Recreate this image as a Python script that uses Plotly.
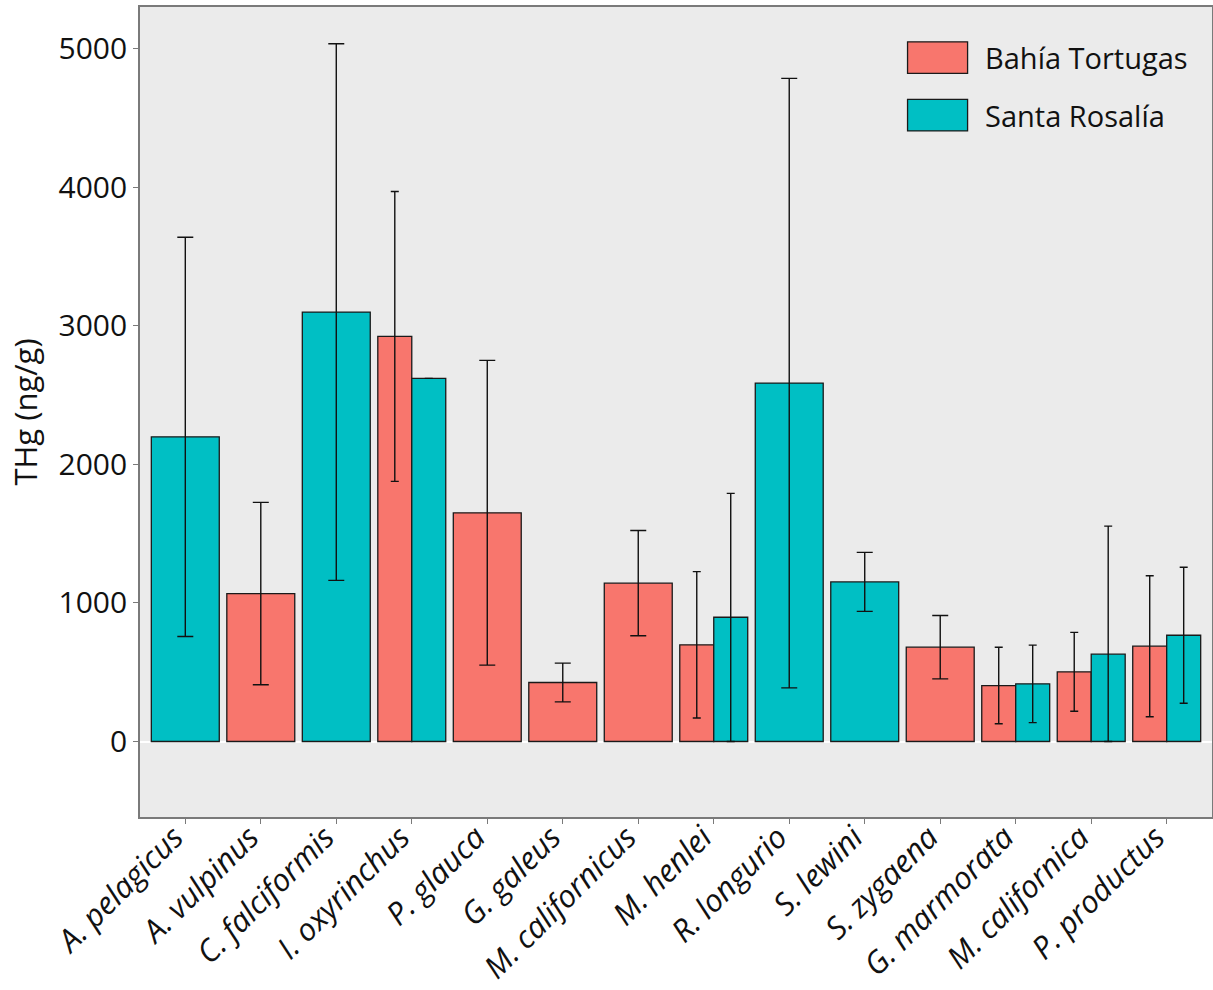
import plotly.graph_objects as go

# ---------------- data ----------------
species = ["A. pelagicus", "A. vulpinus", "C. falciformis", "I. oxyrinchus",
           "P. glauca", "G. galeus", "M. californicus", "M. henlei",
           "R. longurio", "S. lewini", "S. zygaena", "G. marmorata",
           "M. californica", "P. productus"]

series_names = ["Bahía Tortugas", "Santa Rosalía"]

bt_mean = [None, 1068, None, 2924, 1651, 426, 1143, 698, None, None, 681, 404, 503, 688]
bt_err_plus = [None, 658, None, 1046, 1100, 140, 380, 528, None, None, 229, 276, 285, 509]
bt_err_minus = [None, 658, None, 1046, 1100, 140, 380, 528, None, None, 229, 276, 285, 509]

sr_mean = [2199, None, 3100, 2621, None, None, None, 897, 2587, 1152, None, 416, 630, 767]
sr_err_plus = [1441, None, 1937, 0, None, None, None, 894, 2200, 213, None, 280, 925, 491]
sr_err_minus = [1441, None, 1937, 0, None, None, None, 897, 2200, 213, None, 280, 630, 491]

y_ticks = [0, 1000, 2000, 3000, 4000, 5000]
y_title = "THg (ng/g)"

# ---------------- styles ----------------
colors = ["#F8766D", "#00BFC4"]
FONT = "Open Sans"
PANEL = "#EBEBEB"
FRAME = "#7a7a7a"
TXT = "#111111"

series = [
    (bt_mean, bt_err_plus, bt_err_minus),
    (sr_mean, sr_err_plus, sr_err_minus),
]

n = len(species)
both = [bt_mean[i] is not None and sr_mean[i] is not None for i in range(n)]

fig = go.Figure()
for k, (means, ep, em) in enumerate(series):
    for half in (False, True):
        idx = [i for i in range(n) if means[i] is not None and both[i] == half]
        if not idx:
            continue
        w = 0.45 if half else 0.9
        off = (-0.45 if k == 0 else 0.0) if half else -0.45
        fig.add_trace(go.Bar(
            x=idx,
            y=[means[i] for i in idx],
            width=[w] * len(idx),
            offset=[off] * len(idx),
            name=series_names[k],
            showlegend=False,
            marker=dict(color=colors[k], line=dict(color="#1a1a1a", width=1.3)),
            error_y=dict(type="data", symmetric=False,
                         array=[ep[i] for i in idx],
                         arrayminus=[em[i] for i in idx],
                         color=TXT, thickness=1.4,
                         width=4 if half else 8),
        ))

# manual legend (large key boxes, like the original)
leg_x0, leg_x1, leg_tx = 0.716, 0.772, 0.786
leg_rows = [(0.957, 0.918), (0.886, 0.847)]
shapes = []
annotations = []
for k, (ytop, ybot) in enumerate(leg_rows):
    shapes.append(dict(type="rect", xref="paper", yref="paper",
                       x0=leg_x0, x1=leg_x1, y0=ybot, y1=ytop,
                       fillcolor=colors[k], line=dict(color="#1a1a1a", width=1.3)))
    annotations.append(dict(xref="paper", yref="paper", x=leg_tx, y=(ytop + ybot) / 2,
                            text=series_names[k], showarrow=False,
                            xanchor="left", yanchor="middle",
                            font=dict(family=FONT, size=29, color=TXT)))

fig.update_layout(
    width=1213, height=990,
    margin=dict(l=140, r=1, t=7, b=173),
    paper_bgcolor="white",
    plot_bgcolor=PANEL,
    barmode="overlay",
    font=dict(family=FONT, size=29, color=TXT),
    shapes=shapes,
    annotations=annotations,
    showlegend=False,
)

fig.update_xaxes(
    range=[-0.6, n - 0.4],
    tickmode="array",
    tickvals=list(range(n)),
    ticktext=[f"<i>{s}</i>" for s in species],
    tickangle=-45,
    tickfont=dict(family=FONT, size=31, color=TXT),
    ticks="outside", ticklen=5, tickcolor=FRAME, tickwidth=1.3,
    ticklabelshift=-11, ticklabelstandoff=-17,
    showgrid=False, zeroline=False,
    showline=True, linecolor=FRAME, linewidth=1.6, mirror=True,
    automargin=False,
)

fig.update_yaxes(
    range=[-545, 5302],
    tickmode="array",
    tickvals=y_ticks,
    ticktext=[str(v) for v in y_ticks],
    tickfont=dict(family=FONT, size=30, color=TXT),
    ticks="outside", ticklen=5, tickcolor=FRAME, tickwidth=1.3,
    showgrid=False,
    zeroline=True, zerolinecolor="white", zerolinewidth=2,
    showline=True, linecolor=FRAME, linewidth=1.6, mirror=True,
    title=dict(text=y_title, font=dict(family=FONT, size=31, color=TXT), standoff=12),
    automargin=False,
)

fig.write_html("out.html",
               config={"displayModeBar": False},
               post_script="document.body.style.margin='0';document.body.style.padding='0';")
